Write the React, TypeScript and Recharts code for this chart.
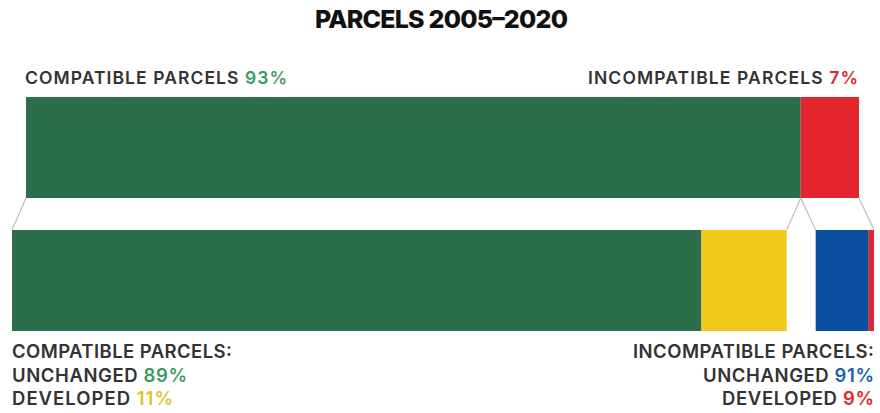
import React from 'react';
import { ComposedChart, Bar, XAxis, YAxis } from 'recharts';

// ---- data ----
const TITLE = 'PARCELS 2005–2020';
const TOP_LABELS = ['COMPATIBLE PARCELS', 'INCOMPATIBLE PARCELS'];
const TOP_SHARES = [93, 7]; // % of all parcels
const SPLIT_LABELS = ['UNCHANGED', 'DEVELOPED'];
const COMPATIBLE_SPLIT = [89, 11]; // % of compatible parcels
const INCOMPATIBLE_SPLIT = [91, 9]; // % of incompatible parcels

// ---- layout / style ----
const W = 880;
const H = 413;
const GAP_L = 1.68; // explode offset of the left group (in % units)
const GAP_R = 1.8; // explode offset of the right group
const CAT_GAP = 16; // px
const GREEN = '#2c6e49';
const RED = '#e3252d';
const YELLOW = '#f2c91d';
const BLUE = '#0b4f9e';
const TEXT = '#333333';
const LINE = '#bdbdbd';
const FONT = 'Inter, "DejaVu Sans", sans-serif';

const compatUnchanged = (TOP_SHARES[0] * COMPATIBLE_SPLIT[0]) / 100;
const compatDeveloped = (TOP_SHARES[0] * COMPATIBLE_SPLIT[1]) / 100;
const incompUnchanged = (TOP_SHARES[1] * INCOMPATIBLE_SPLIT[0]) / 100;
const incompDeveloped = (TOP_SHARES[1] * INCOMPATIBLE_SPLIT[1]) / 100;

const rows = [
  { row: 'top', sp0: GAP_L, a: TOP_SHARES[0], b: TOP_SHARES[1], sp1: 0, c: 0, d: 0 },
  {
    row: 'bottom',
    sp0: 0,
    a: compatUnchanged,
    b: compatDeveloped,
    sp1: GAP_L + GAP_R,
    c: incompUnchanged,
    d: incompDeveloped,
  },
];
const TOTAL = GAP_L + TOP_SHARES[0] + TOP_SHARES[1] + GAP_R;

const COLORS: Record<string, string[]> = {
  a: [GREEN, GREEN],
  b: [RED, YELLOW],
  c: [BLUE, BLUE],
  d: [RED, RED],
};

const makeShape = (key: string) => (props: any) => {
  const { x, y, width, height, index } = props;
  if (!width || width <= 0) return <g />;
  const fill = COLORS[key][index];
  const lines: React.ReactNode[] = [];
  if (index === 0 && (key === 'a' || key === 'b')) {
    const value = key === 'a' ? TOP_SHARES[0] : TOP_SHARES[1];
    const ppu = width / value;
    const shift = key === 'a' ? -GAP_L * ppu : GAP_R * ppu;
    const y0 = y + height;
    const y1 = y + height + 2 * CAT_GAP;
    lines.push(
      <line key="l" x1={x} y1={y0} x2={x + shift} y2={y1} stroke={LINE} strokeWidth={1.2} />,
      <line key="r" x1={x + width} y1={y0} x2={x + width + shift} y2={y1} stroke={LINE} strokeWidth={1.2} />
    );
  }
  return (
    <g>
      <rect x={x} y={y} width={width} height={height} fill={fill} />
      {lines}
    </g>
  );
};

const Empty = () => <g />;

export default function App() {
  return (
    <div style={{ position: 'absolute', left: 0, top: 0, width: W, height: H, background: '#fff' }}>
      <ComposedChart
        width={W}
        height={H}
        data={rows}
        layout="vertical"
        margin={{ top: 81, right: 6, bottom: 66, left: 12 }}
        barCategoryGap={CAT_GAP}
      >
        <XAxis type="number" hide domain={[0, TOTAL]} allowDataOverflow />
        <YAxis type="category" dataKey="row" hide />
        <Bar dataKey="sp0" stackId="s" shape={Empty} isAnimationActive={false} />
        <Bar dataKey="a" stackId="s" shape={makeShape('a')} isAnimationActive={false} />
        <Bar dataKey="b" stackId="s" shape={makeShape('b')} isAnimationActive={false} />
        <Bar dataKey="sp1" stackId="s" shape={Empty} isAnimationActive={false} />
        <Bar dataKey="c" stackId="s" shape={makeShape('c')} isAnimationActive={false} />
        <Bar dataKey="d" stackId="s" shape={makeShape('d')} isAnimationActive={false} />
      </ComposedChart>
      <svg
        width={W}
        height={H}
        style={{ position: 'absolute', left: 0, top: 0, pointerEvents: 'none' }}
        fontFamily={FONT}
      >
        <text x={315} y={28} fontSize={25} fontWeight={800} fill="#111" textLength={253}>
          {TITLE}
        </text>
        <text x={25} y={84} fontSize={17.5} fontWeight={600} fill={TEXT} textLength={262}>
          {TOP_LABELS[0]} <tspan fill="#3d9a63">{TOP_SHARES[0]}%</tspan>
        </text>
        <text x={588} y={84} fontSize={17.5} fontWeight={600} fill={TEXT} textLength={270}>
          {TOP_LABELS[1]} <tspan fill={RED}>{TOP_SHARES[1]}%</tspan>
        </text>

        <text x={12} y={358} fontSize={18.5} fontWeight={600} fill={TEXT} textLength={220}>
          {TOP_LABELS[0]}:
        </text>
        <text x={12} y={382} fontSize={18.5} fontWeight={600} fill={TEXT} textLength={175}>
          {SPLIT_LABELS[0]} <tspan fill="#3d9a63">{COMPATIBLE_SPLIT[0]}%</tspan>
        </text>
        <text x={12} y={405} fontSize={18.5} fontWeight={600} fill={TEXT} textLength={161}>
          {SPLIT_LABELS[1]} <tspan fill="#e2c22b">{COMPATIBLE_SPLIT[1]}%</tspan>
        </text>

        <text x={633} y={358} fontSize={18.5} fontWeight={600} fill={TEXT} textLength={241}>
          {TOP_LABELS[1]}:
        </text>
        <text x={703} y={382} fontSize={18.5} fontWeight={600} fill={TEXT} textLength={171}>
          {SPLIT_LABELS[0]} <tspan fill="#1e5fae">{INCOMPATIBLE_SPLIT[0]}%</tspan>
        </text>
        <text x={722} y={405} fontSize={18.5} fontWeight={600} fill={TEXT} textLength={152}>
          {SPLIT_LABELS[1]} <tspan fill={RED}>{INCOMPATIBLE_SPLIT[1]}%</tspan>
        </text>
      </svg>
    </div>
  );
}
